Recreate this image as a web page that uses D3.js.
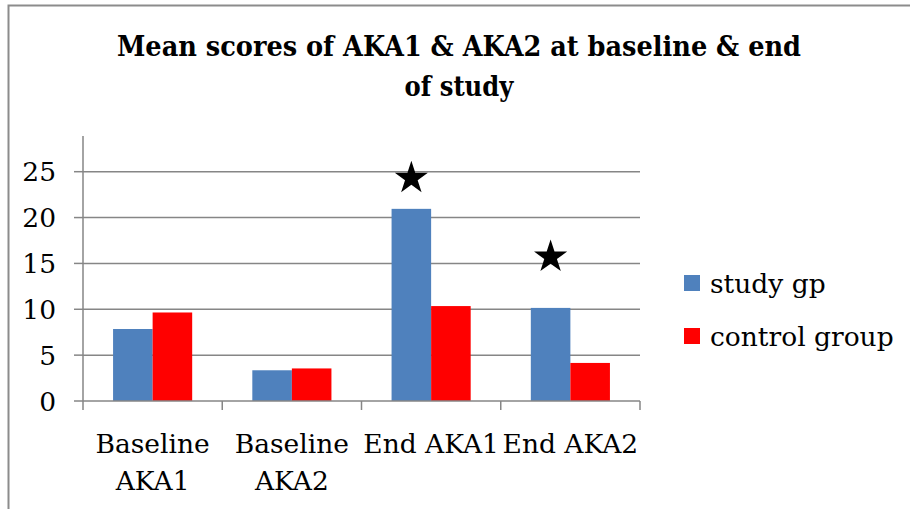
<!DOCTYPE html>
<html>
<head>
<meta charset="utf-8">
<script src="https://cdn.jsdelivr.net/npm/d3@7"></script>
<style>
  body { margin: 0; background: #fff; }
  svg { display: block; }
</style>
</head>
<body>
<script>
// data
var categories = ["Baseline AKA1", "Baseline AKA2", "End AKA1", "End AKA2"];
var seriesNames = ["study gp", "control group"];
var studyGp = [7.85, 3.35, 20.95, 10.15];
var controlGroup = [9.65, 3.55, 10.35, 4.15];
var yTicks = [0, 5, 10, 15, 20, 25];
// stars marking significant difference (category, height in score units)
var starCats = ["End AKA1", "End AKA2"];
var starVals = [24.3, 15.7];

var colors = ["#4F81BD", "#FF0000"];
var font = "'DejaVu Serif', 'Liberation Serif', serif";
var fontSize = "26.5px";

var width = 910;
var height = 509;
var svg = d3.select("body").append("svg")
    .attr("width", width)
    .attr("height", height);

// outer chart border (runs off the right & bottom edge)
svg.append("rect")
    .attr("x", 8.5).attr("y", 5.5)
    .attr("width", 1000).attr("height", 600)
    .attr("fill", "none")
    .attr("stroke", "#8c8c8c")
    .attr("stroke-width", 2);

// title
var title = svg.append("text")
    .attr("text-anchor", "middle")
    .style("font-family", "'DejaVu Serif Condensed', 'DejaVu Serif', serif")
    .style("font-weight", "bold")
    .style("font-size", "27px")
    .attr("fill", "#000");
title.append("tspan").attr("x", 459).attr("y", 56)
    .attr("textLength", 684).attr("lengthAdjust", "spacingAndGlyphs")
    .text("Mean scores of AKA1 & AKA2 at baseline & end");
title.append("tspan").attr("x", 459).attr("y", 96)
    .text("of study");

// scales
var plotLeft = 83, plotRight = 640, plotTop = 136;
var x = d3.scaleBand().domain(categories).range([plotLeft, plotRight]);
var xSub = d3.scaleBand().domain(seriesNames).range([0, x.bandwidth()])
    .paddingInner(0).paddingOuter(0.76);
var y = d3.scaleLinear().domain([0, 25]).range([401, 171.7]);

// gridlines
svg.append("g").selectAll("line")
    .data(yTicks.slice(1))
    .join("line")
    .attr("x1", plotLeft).attr("x2", plotRight)
    .attr("y1", d => y(d)).attr("y2", d => y(d))
    .attr("stroke", "#868686")
    .attr("stroke-width", 1.5);

// bars
var rows = categories.map((c, i) => ({ cat: c, values: [studyGp[i], controlGroup[i]] }));
svg.append("g").selectAll("g")
    .data(rows)
    .join("g")
    .attr("transform", d => "translate(" + x(d.cat) + ",0)")
    .selectAll("rect")
    .data(d => d.values.map((v, j) => ({ s: seriesNames[j], v: v, j: j })))
    .join("rect")
    .attr("x", d => xSub(d.s))
    .attr("y", d => y(d.v))
    .attr("width", xSub.bandwidth())
    .attr("height", d => y(0) - y(d.v))
    .attr("fill", d => colors[d.j]);

// y axis
var yAxis = svg.append("g");
yAxis.append("line")
    .attr("x1", plotLeft).attr("x2", plotLeft)
    .attr("y1", plotTop).attr("y2", y(0))
    .attr("stroke", "#868686").attr("stroke-width", 1.5);
yAxis.selectAll(".tk")
    .data(yTicks)
    .join("line")
    .attr("class", "tk")
    .attr("x1", 74).attr("x2", plotLeft)
    .attr("y1", d => y(d)).attr("y2", d => y(d))
    .attr("stroke", "#868686").attr("stroke-width", 1.5);
yAxis.selectAll("text")
    .data(yTicks)
    .join("text")
    .attr("x", 56)
    .attr("y", d => y(d))
    .attr("dy", "0.36em")
    .attr("text-anchor", "end")
    .style("font-family", font)
    .style("font-size", fontSize)
    .text(d => d);

// x axis
var xAxis = svg.append("g");
xAxis.append("line")
    .attr("x1", plotLeft).attr("x2", plotRight)
    .attr("y1", y(0)).attr("y2", y(0))
    .attr("stroke", "#868686").attr("stroke-width", 1.5);
var edges = categories.map(c => x(c)).concat([plotRight]);
xAxis.selectAll(".tk")
    .data(edges)
    .join("line")
    .attr("class", "tk")
    .attr("x1", d => d).attr("x2", d => d)
    .attr("y1", y(0)).attr("y2", 410)
    .attr("stroke", "#868686").attr("stroke-width", 1.5);

// category labels, wrapped when wider than the band (like excel does)
var labels = xAxis.selectAll("text")
    .data(categories)
    .join("text")
    .attr("text-anchor", "middle")
    .style("font-family", font)
    .style("font-size", fontSize)
    .attr("x", d => x(d) + x.bandwidth() / 2)
    .attr("y", 453)
    .text(d => d);
labels.each(function(d) {
    var t = d3.select(this);
    if (this.getComputedTextLength() > x.bandwidth()) {
        var words = d.split(" ");
        var cx = x(d) + x.bandwidth() / 2;
        t.text(null);
        t.append("tspan").attr("x", cx).attr("y", 453).text(words.slice(0, -1).join(" "));
        t.append("tspan").attr("x", cx).attr("y", 490).text(words[words.length - 1]);
    }
});

// stars over the study group bars
svg.append("g").selectAll("path")
    .data(starCats.map((c, i) => ({ cat: c, v: starVals[i] })))
    .join("path")
    .attr("d", d3.symbol(d3.symbolStar).size(340))
    .attr("transform", d => "translate(" + (x(d.cat) + xSub("study gp") + xSub.bandwidth() / 2) + "," + y(d.v) + ")")
    .attr("fill", "#000");

// legend
var legend = svg.append("g").selectAll("g")
    .data(seriesNames)
    .join("g")
    .attr("transform", (d, i) => "translate(684," + (275 + i * 53) + ")");
legend.append("rect")
    .attr("width", 16).attr("height", 16)
    .attr("fill", (d, i) => colors[i]);
legend.append("text")
    .attr("x", 26).attr("y", 8)
    .attr("dy", "0.36em")
    .style("font-family", font)
    .style("font-size", fontSize)
    .text(d => d);
</script>
</body>
</html>
